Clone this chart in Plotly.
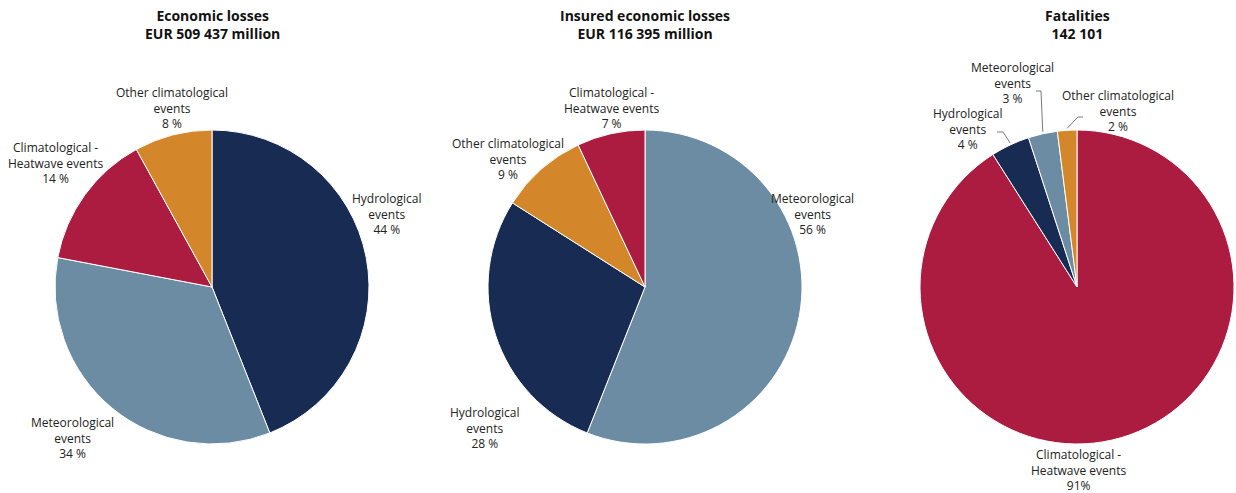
import math
import plotly.graph_objects as go

# ---- data -------------------------------------------------------------
titles = ["Economic losses", "Insured economic losses", "Fatalities"]
totals = ["EUR 509 437 million", "EUR 116 395 million", "142 101"]

econ_categories = ["Hydrological events", "Meteorological events",
                   "Climatological - Heatwave events", "Other climatological events"]
econ_values = [44, 34, 14, 8]

insured_categories = ["Meteorological events", "Hydrological events",
                      "Other climatological events", "Climatological - Heatwave events"]
insured_values = [56, 28, 9, 7]

fatal_categories = ["Climatological - Heatwave events", "Hydrological events",
                    "Meteorological events", "Other climatological events"]
fatal_values = [91, 4, 3, 2]

# ---- styling ------------------------------------------------------------
W, H = 1236, 493
FONT = "Open Sans"
colors = {
    "Hydrological events": "#172b53",
    "Meteorological events": "#6c8ca4",
    "Climatological - Heatwave events": "#ab1c40",
    "Other climatological events": "#d4872a",
}
label_lines = {
    "Hydrological events": "Hydrological<br>events",
    "Meteorological events": "Meteorological<br>events",
    "Climatological - Heatwave events": "Climatological -<br>Heatwave events",
    "Other climatological events": "Other climatological<br>events",
}

# pie centre / radius in pixels, label block centres in pixels
charts = [
    dict(cats=econ_categories, vals=econ_values, cx=212, cy=287, r=157, sep=" ",
         labels={"Other climatological events": (172, 108),
                 "Climatological - Heatwave events": (55, 163),
                 "Hydrological events": (387, 214),
                 "Meteorological events": (72, 438)}),
    dict(cats=insured_categories, vals=insured_values, cx=645, cy=287, r=157, sep=" ",
         labels={"Climatological - Heatwave events": (611, 108),
                 "Other climatological events": (508, 159),
                 "Meteorological events": (812, 214),
                 "Hydrological events": (485, 428)}),
    dict(cats=fatal_categories, vals=fatal_values, cx=1077, cy=287, r=157, sep=" ",
         labels={"Meteorological events": (1012, 83),
                 "Hydrological events": (968, 129),
                 "Other climatological events": (1118, 111),
                 "Climatological - Heatwave events": (1078, 470)}),
]
# the large heatwave share is written without a space before the sign
big_share_sep = ""

# leader lines for the small fatality slices: (category, start x, start y, elbow x)
leaders = [
    ("Hydrological events", 997, 132, 1003),
    ("Meteorological events", 1036, 91, 1041),
    ("Other climatological events", 1083, 117, 1078),
]


def px(x):
    return x / W


def py(y):
    return 1 - y / H


fig = go.Figure()
annotations = []
shapes = []

for i, ch in enumerate(charts):
    cx, cy, r = ch["cx"], ch["cy"], ch["r"]
    fig.add_trace(go.Pie(
        labels=ch["cats"], values=ch["vals"], sort=False, direction="clockwise",
        rotation=0, textinfo="none", hoverinfo="label+percent",
        marker=dict(colors=[colors[c] for c in ch["cats"]],
                    line=dict(color="white", width=1)),
        domain=dict(x=[px(cx - r), px(cx + r)], y=[py(cy + r), py(cy - r)]),
        showlegend=False,
    ))
    annotations.append(dict(
        x=px(cx), y=py(25), xref="paper", yref="paper",
        xanchor="center", yanchor="middle",
        text=f"<b>{titles[i]}<br>{totals[i]}</b>", showarrow=False,
        font=dict(family=FONT, size=14, color="#111"), align="center",
    ))
    for cat, v in zip(ch["cats"], ch["vals"]):
        lx, ly = ch["labels"][cat]
        sep = big_share_sep if v >= 90 else ch["sep"]
        annotations.append(dict(
            x=px(lx), y=py(ly), xref="paper", yref="paper",
            text=f"{label_lines[cat]}<br>{v}{sep}%", showarrow=False,
            font=dict(family=FONT, size=12, color="#222"), align="center",
            xanchor="center", yanchor="middle",
        ))

# leader lines end at the middle of each slice's outer edge
fc = charts[2]
cum = 0
mid_angle = {}
total = sum(fc["vals"])
for cat, v in zip(fc["cats"], fc["vals"]):
    mid_angle[cat] = (cum + v / 2) / total * 2 * math.pi
    cum += v
for cat, sx, sy, ex in leaders:
    a = mid_angle[cat]
    tx = fc["cx"] + fc["r"] * math.sin(a)
    ty = fc["cy"] - fc["r"] * math.cos(a)
    shapes.append(dict(
        type="path", xref="paper", yref="paper",
        path=f"M {px(sx)},{py(sy)} L {px(ex)},{py(sy)} L {px(tx)},{py(ty - 2)}",
        line=dict(color="#555", width=0.8),
    ))

fig.update_layout(
    width=W, height=H, margin=dict(l=0, r=0, t=0, b=0),
    paper_bgcolor="white", plot_bgcolor="white",
    annotations=annotations, shapes=shapes,
    font=dict(family=FONT),
)
fig.write_html("out.html")
